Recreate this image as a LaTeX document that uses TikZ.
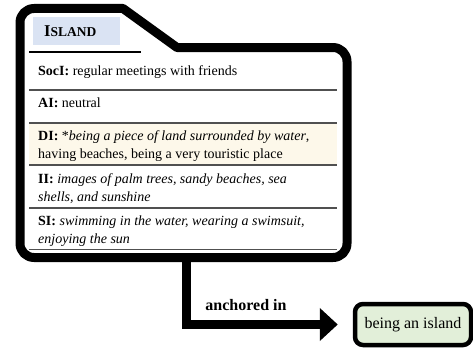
\documentclass[tikz,border=0pt]{standalone}
\usepackage{fontspec}
\setmainfont{Liberation Serif}
\usetikzlibrary{arrows.meta}
\definecolor{titleblue}{HTML}{DAE3F3}
\definecolor{cream}{HTML}{FDF8EA}
\definecolor{palegreen}{HTML}{E2EFD9}
\definecolor{rulegray}{HTML}{505050}
\tikzset{
  folder/.style={line width=9pt, line join=round, fill=white},
  rowrule/.style={draw=rulegray, line width=1.3pt},
  rowtext/.style={anchor=west, align=left, inner sep=0pt,
    font=\fontsize{14}{18}\selectfont},
  bigarrow/.style={line width=9pt, -{Triangle[length=18pt,width=32pt]}},
  target/.style={draw, line width=4.5pt, rounded corners=8pt, fill=palegreen,
    minimum width=116pt, minimum height=41pt, inner sep=0pt,
    font=\fontsize{16}{19}\selectfont},
}
\begin{document}
\begin{tikzpicture}[x=1pt,y=1pt]
\useasboundingbox (0,0) rectangle (473,349);

% folder-shaped frame with a tab at the top left
\draw[folder] (20,106) -- (20,326.5) arc(180:90:14) -- (123,340.5)
  -- (177,301.5) -- (333,301.5) arc(90:0:14) -- (347,105.5)
  arc(0:-90:14) -- (34,91.5) arc(270:180:14) -- cycle;

% title tab
\fill[titleblue] (33,304) rectangle (120,332);
\node[anchor=west, inner sep=0pt] (title) at (44,318)
  {\bfseries\fontsize{16.5}{18}\selectfont I\fontsize{13.5}{16}\selectfont SLAND};
\draw[line width=1.2pt] (29,297) -- (141,297);

% highlighted row background
\fill[cream] (29,225) rectangle (337,184);

% rows
\node[rowtext] (soci) at (38,277) {\textbf{SocI:} regular meetings with friends};
\draw[rowrule] (29,259) -- (337,259);
\node[rowtext] (ai) at (38,246) {\textbf{AI:} neutral};
\draw[rowrule] (29,226) -- (337,226);
\node[rowtext] (di) at (38,203) {\textbf{DI:} *\textit{being a piece of land surrounded by water},\\having beaches, being a very touristic place};
\draw[rowrule] (29,184) -- (337,184);
\node[rowtext] (ii) at (38,160.5) {\textbf{II:} \textit{images of palm trees, sandy beaches, sea}\\\textit{shells, and sunshine}};
\draw[rowrule] (29,141) -- (337,141);
\node[rowtext] (si) at (38,118) {\textbf{SI:} \textit{swimming in the water, wearing a swimsuit,}\\\textit{enjoying the sun}};
\draw[rowrule] (29,99.5) -- (337,99.5);

% anchoring relation
\coordinate (stem) at (186,96);
\node[target] (island) at (413,24.5) {being an island};
\draw[bigarrow, shorten >=15pt] (stem) |- (island.west);
\node[font=\bfseries\fontsize{16}{19}\selectfont] (rel) at (246,44) {anchored in};
\end{tikzpicture}
\end{document}
